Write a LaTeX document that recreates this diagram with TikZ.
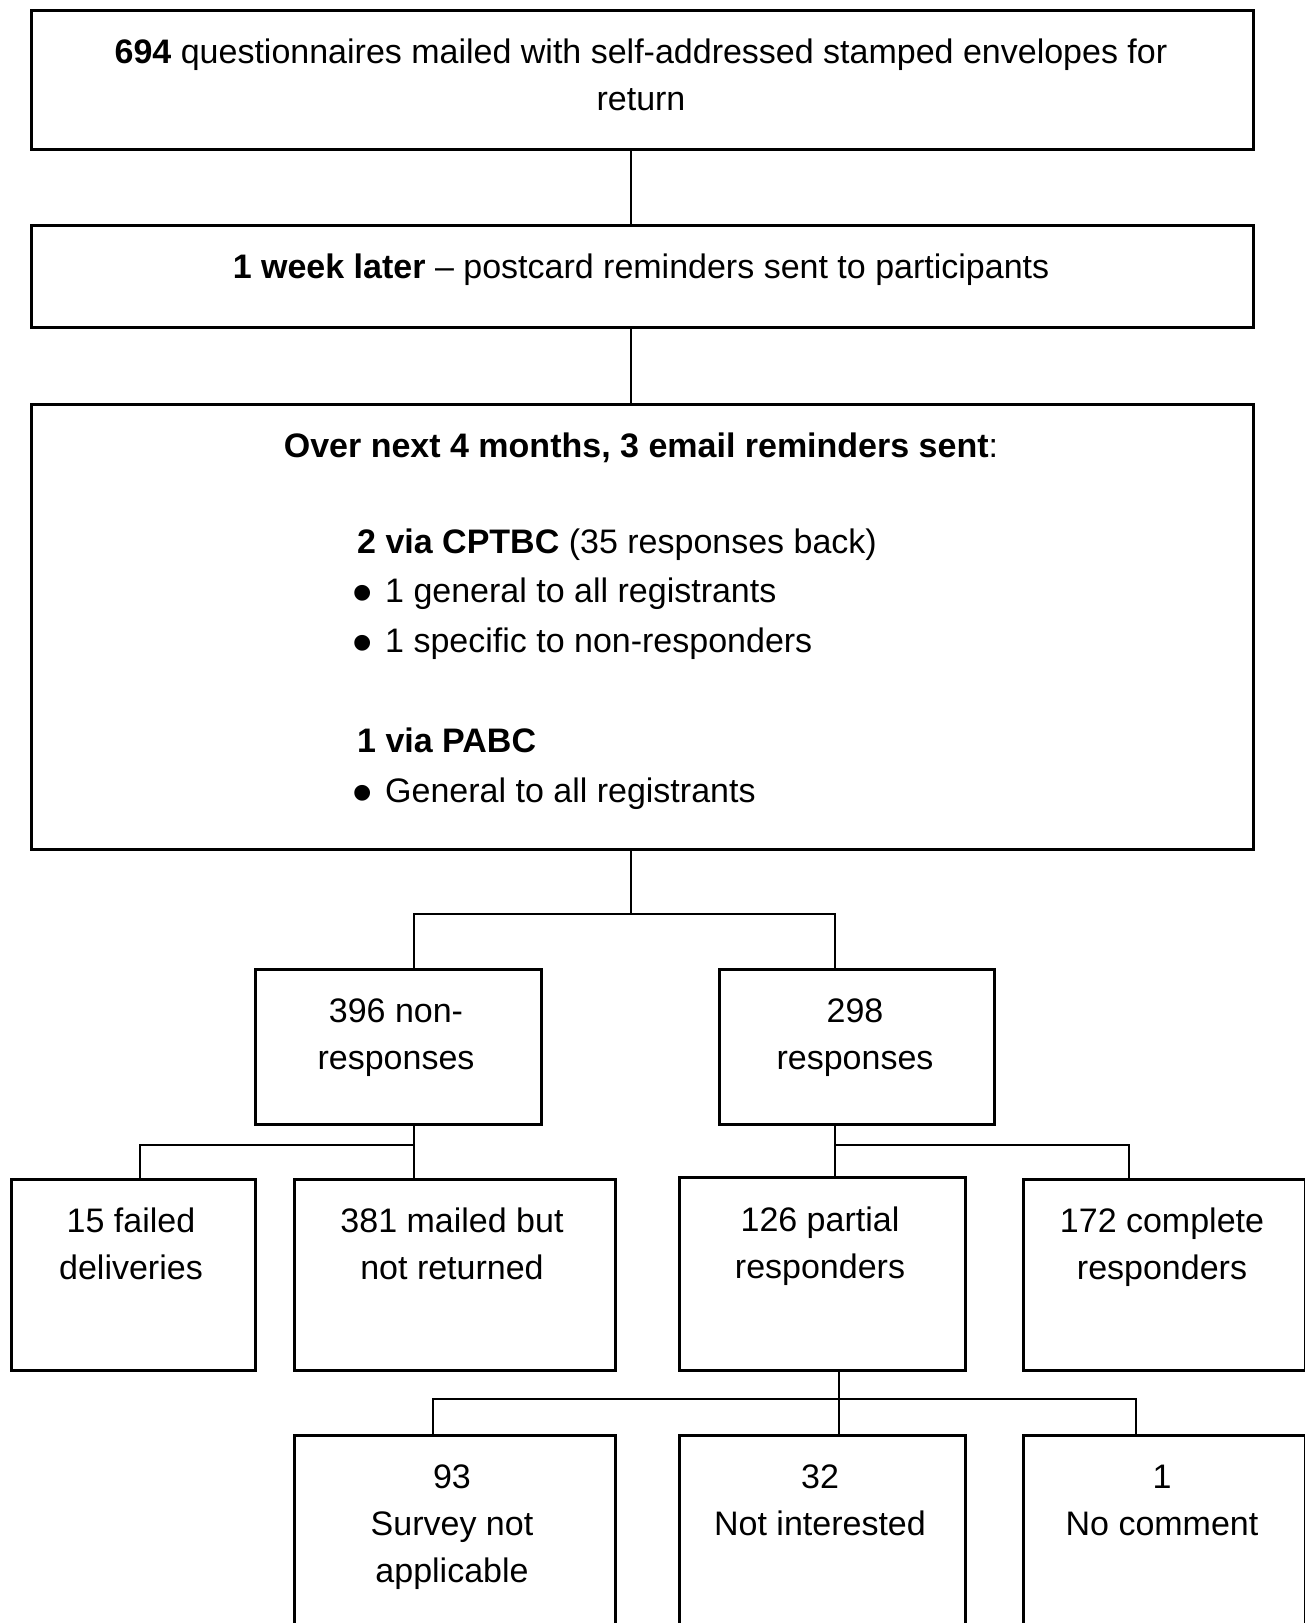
\documentclass[tikz,border=0pt]{standalone}
\usepackage{fontspec}
\setmainfont{Liberation Sans}
\newcommand{\bigbul}{\makebox[28pt][l]{\hspace{-5pt}\smash{\raisebox{-10pt}{\fontsize{58}{0}\selectfont\textbullet}}}}
\begin{document}
\begin{tikzpicture}[x=1pt,y=-1pt,
  box/.style={draw, line width=2.6pt, inner sep=0pt, anchor=north west},
  conn/.style={line width=1.8pt},
  txt/.style={font=\fontsize{34}{47}\selectfont, align=center, inner sep=0pt, anchor=base},
  ltxt/.style={font=\fontsize{34}{49.8}\selectfont, align=left, inner sep=0pt, anchor=base west}]
\path[use as bounding box] (0,0) rectangle (1305,1623);
\clip (0,0) rectangle (1305,1623);
% boxes
\node[box, minimum width=1222pt, minimum height=139pt] (b1) at (30,9) {};
\node[box, minimum width=1222pt, minimum height=102pt] (b2) at (30,224) {};
\node[box, minimum width=1222pt, minimum height=445pt] (b3) at (30,403) {};
\node[box, minimum width=286pt, minimum height=155pt] (nr) at (254,968) {};
\node[box, minimum width=275pt, minimum height=155pt] (rs) at (718,968) {};
\node[box, minimum width=244pt, minimum height=191pt] (fd) at (10,1178) {};
\node[box, minimum width=321pt, minimum height=191pt] (mb) at (293,1178) {};
\node[box, minimum width=286pt, minimum height=193pt] (pr) at (678,1176) {};
\node[box, minimum width=282pt, minimum height=191pt] (cr) at (1022,1178) {};
\node[box, minimum width=321pt, minimum height=230pt] (sn) at (293,1434) {};
\node[box, minimum width=286pt, minimum height=230pt] (ni) at (678,1434) {};
\node[box, minimum width=282pt, minimum height=230pt] (nc) at (1022,1434) {};
% texts (anchor = baseline of the last line)
\node[txt] (t1) at (641,110) {\textbf{694} questionnaires mailed with self-addressed stamped envelopes for\\return};
\node[txt] (t2) at (641,278) {\textbf{1 week later} -- postcard reminders sent to participants};
\node[txt] (t3) at (641,457) {\textbf{Over next 4 months, 3 email reminders sent}:};
\node[ltxt] (t4) at (357,652.6) {\textbf{2 via CPTBC} (35 responses back)\\\bigbul 1 general to all registrants\\\bigbul 1 specific to non-responders};
\node[ltxt] (t5) at (357,802) {\textbf{1 via PABC}\\\bigbul General to all registrants};
\node[txt] (t6) at (396,1069) {396 non-\\responses};
\node[txt] (t7) at (855,1069) {298\\responses};
\node[txt] (t8) at (131,1279) {15 failed\\deliveries};
\node[txt] (t9) at (452,1279) {381 mailed but\\not returned};
\node[txt] (t10) at (820,1278) {126 partial\\responders};
\node[txt] (t11) at (1162,1279) {172 complete\\responders};
\node[txt] (t12) at (452,1582) {93\\Survey not\\applicable};
\node[txt] (t13) at (820,1535) {32\\Not interested};
\node[txt] (t14) at (1162,1535) {1\\No comment};
% junction coordinates
\coordinate (c0) at (631,0);
\coordinate (hL) at (414,914);
\coordinate (hR) at (835,914);
\coordinate (gL) at (140,1145);
\coordinate (gR) at (414,1145);
\coordinate (kL) at (835,1145);
\coordinate (kR) at (1129,1145);
\coordinate (mL) at (433,1399);
\coordinate (mC) at (839,1399);
\coordinate (mR) at (1136,1399);
% connectors
\draw[conn] (b1.south -| c0) -- (b2.north -| c0);
\draw[conn] (b2.south -| c0) -- (b3.north -| c0);
\draw[conn] (b3.south -| c0) -- (c0 |- hL);
\draw[conn] (nr.north -| hL) -- (hL) -- (hR) -- (rs.north -| hR);
\draw[conn] (nr.south -| gR) -- (gR);
\draw[conn] (fd.north -| gL) -- (gL) -- (gR) -- (mb.north -| gR);
\draw[conn] (rs.south -| kL) -- (kL);
\draw[conn] (pr.north -| kL) -- (kL) -- (kR) -- (cr.north -| kR);
\draw[conn] (pr.south -| mC) -- (ni.north -| mC);
\draw[conn] (sn.north -| mL) -- (mL) -- (mR) -- (nc.north -| mR);
\end{tikzpicture}
\end{document}
